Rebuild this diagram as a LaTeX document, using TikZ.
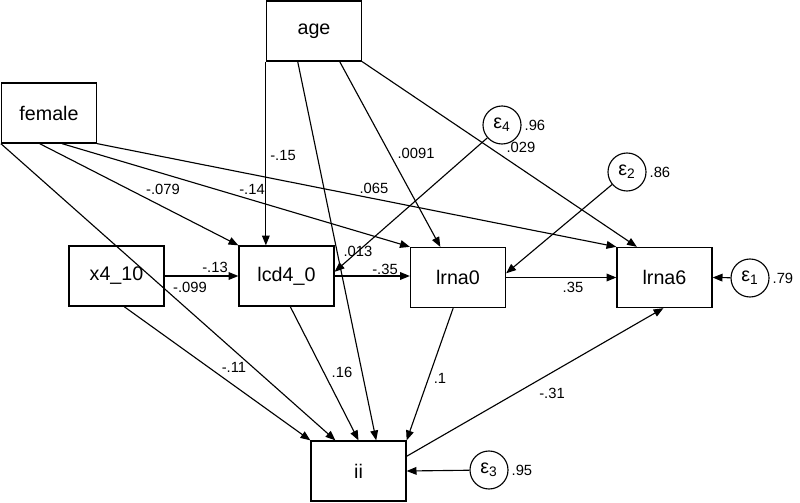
\documentclass[tikz,border=0pt]{standalone}
\usepackage{fontspec}
\setmainfont{Liberation Sans}
\usetikzlibrary{arrows.meta,positioning}

\begin{document}
\begin{tikzpicture}[
    x=0.025cm, y=-0.025cm,
    obs/.style={rectangle, draw, line width=0.9pt, minimum width=2.375cm, minimum height=1.5cm, font=\fontsize{14}{16}\selectfont},
    err/.style={circle, draw, line width=0.8pt, minimum size=0.95cm, inner sep=0pt, font=\fontsize{14}{16}\selectfont},
    link/.style={-{Triangle[length=7pt,width=5.5pt]}, line width=0.8pt},
    coef/.style={font=\fontsize{10.5}{12}\selectfont, inner sep=1pt}
]
\useasboundingbox (0,0) rectangle (800,503);

% Observed variables
\node[obs] (age) at (314,31) {age};
\node[obs] (female) at (49,113) {female};
\node[obs] (x4) at (116.5,276) {x4\_10};
\node[obs] (lcd4) at (286.5,276) {lcd4\_0};
\node[obs] (lrna0) at (458,277.5) {lrna0};
\node[obs] (lrna6) at (664.5,277.5) {lrna6};
\node[obs] (ii) at (358.5,471) {ii};

% Error terms
\node[err] (e4) at (502,125) {ε\textsubscript{4}};
\node[err] (e2) at (627,172) {ε\textsubscript{2}};
\node[err] (e1) at (750,278) {ε\textsubscript{1}};
\node[err] (e3) at (489,470) {ε\textsubscript{3}};

% Error variances
\node[coef, right=1pt of e4] (v4) {.96};
\node[coef, right=1pt of e2] (v2) {.86};
\node[coef, right=1pt of e1] (v1) {.79};
\node[coef, right=1pt of e3] (v3) {.95};

% Paths from age
\draw[link] (age.south west) -- (age.south west |- lcd4.north);
\draw[link] (age.242) -- (ii.60);
\draw[link] (age.310) -- (lrna0.120);
\draw[link] (age.south east) -- (lrna6.132);

% Paths from female
\draw[link] (female.253) -- (lcd4.north west);
\draw[link] (female.293) -- (lrna0.north west);
\draw[link] (female.south east) -- (lrna6.north west);
\draw[link] (female.south west) -- (ii.127);

% Paths from x4_10
\draw[link] (x4.east) -- (lcd4.west);
\draw[link] (x4.284) -- (ii.north west);

% Paths between outcomes
\draw[link] (lcd4.east) -- (lcd4.east -| lrna0.west);
\draw[link] (lcd4.277) -- (ii.north);
\draw[link] (lrna0.east) -- (lrna6.west);
\draw[link] (lrna0.261) -- (ii.north east);
\draw[link] (ii.17) -- (lrna6.268);

% Error paths
\draw[link] (e4) -- (lcd4.5);
\draw[link] (e2) -- (lrna0.5);
\draw[link] (e1) -- (lrna6.east);
\draw[link] (e3) -- (ii.east);

% Coefficients
\node[coef] (c1) at (283,155) {-.15};
\node[coef] (c2) at (163,189) {-.079};
\node[coef] (c3) at (252,189) {-.14};
\node[coef] (c4) at (374,188) {.065};
\node[coef] (c5) at (416,153) {.0091};
\node[coef] (c6) at (521,147) {.029};
\node[coef] (c7) at (358,251) {.013};
\node[coef] (c8) at (215,267) {-.13};
\node[coef] (c9) at (190,287) {-.099};
\node[coef] (c10) at (385,269) {-.35};
\node[coef] (c11) at (573,287) {.35};
\node[coef] (c12) at (234,367) {-.11};
\node[coef] (c13) at (342,372) {.16};
\node[coef] (c14) at (440,378) {.1};
\node[coef] (c15) at (552,393) {-.31};

\end{tikzpicture}
\end{document}
